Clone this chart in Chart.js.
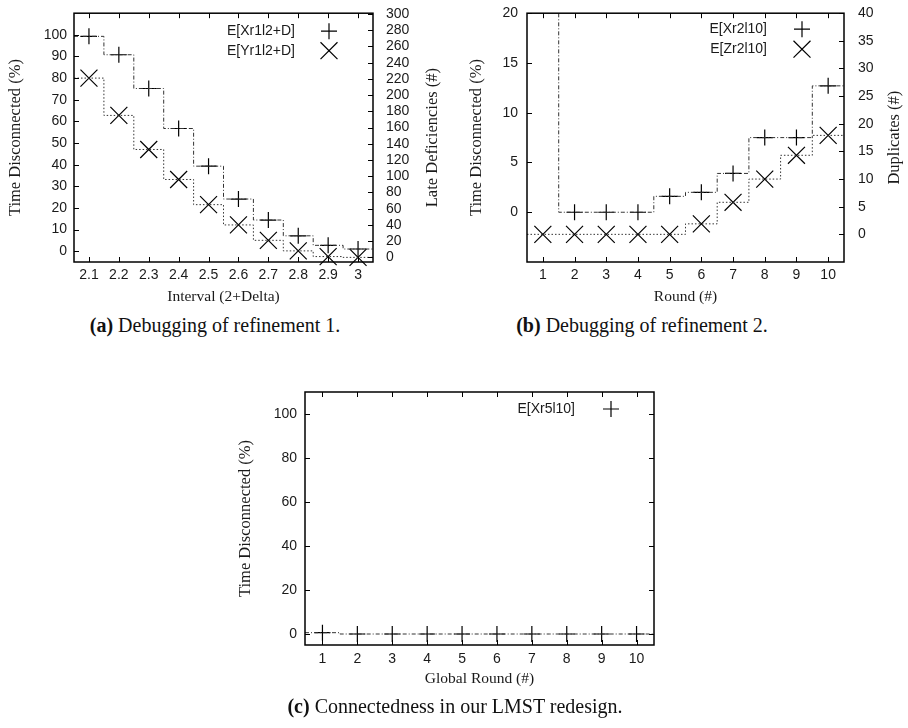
<!DOCTYPE html>
<html><head><meta charset="utf-8">
<script src="https://cdn.jsdelivr.net/npm/chart.js@4.4.1/dist/chart.umd.min.js"></script>
<style>
html,body{margin:0;padding:0;background:#fff}
body{width:908px;height:728px;position:relative;overflow:hidden}
canvas{position:absolute}
.cap{position:absolute;font-family:"Liberation Serif",serif;font-size:20px;line-height:20px;color:#111;white-space:nowrap;transform:translateX(-50%)}
.cap b{font-weight:bold}
</style></head><body>
<canvas id="ca" width="454" height="310" style="left:0;top:0"></canvas>
<canvas id="cb" width="454" height="310" style="left:454px;top:0"></canvas>
<canvas id="cc" width="454" height="320" style="left:227px;top:380px"></canvas>
<div class="cap" style="left:215px;top:315px"><b>(a)</b> Debugging of refinement 1.</div>
<div class="cap" style="left:642px;top:315px"><b>(b)</b> Debugging of refinement 2.</div>
<div class="cap" style="left:455px;top:696px"><b>(c)</b> Connectedness in our LMST redesign.</div>
<script>
// ---------------- data ----------------
// (a) Debugging of refinement 1
const intervals = [2.1, 2.2, 2.3, 2.4, 2.5, 2.6, 2.7, 2.8, 2.9, 3.0];
const intervalLabels = ['2.1','2.2','2.3','2.4','2.5','2.6','2.7','2.8','2.9','3'];
const xr1TimeDisconnected = [99.3, 90.8, 75.2, 56.7, 39.3, 24.1, 14.4, 7.1, 2.7, 1.0];
const yr1LateDeficiencies = [221, 175, 133, 96, 65, 40, 21, 8, 1, 0];
const yTicksA = [0, 10, 20, 30, 40, 50, 60, 70, 80, 90, 100];
const y2TicksA = [0, 20, 40, 60, 80, 100, 120, 140, 160, 180, 200, 220, 240, 260, 280, 300];

// (b) Debugging of refinement 2
const rounds = [1, 2, 3, 4, 5, 6, 7, 8, 9, 10];
const roundLabels = ['1','2','3','4','5','6','7','8','9','10'];
const xr2TimeDisconnected = [100, 0, 0, 0, 1.6, 2.0, 3.9, 7.5, 7.5, 12.7];
const zr2Duplicates = [0, 0, 0, 0, 0, 1.9, 5.8, 10.0, 14.3, 17.9];
const yTicksB = [0, 5, 10, 15, 20];
const y2TicksB = [0, 5, 10, 15, 20, 25, 30, 35, 40];

// (c) Connectedness in our LMST redesign
const globalRounds = [1, 2, 3, 4, 5, 6, 7, 8, 9, 10];
const xr5TimeDisconnected = [0.6, 0, 0, 0, 0, 0, 0, 0, 0, 0];
const yTicksC = [0, 20, 40, 60, 80, 100];

// ---------------- helpers ----------------
const SANS = '"Liberation Sans", Arial, sans-serif';
const SERIF = '"Liberation Serif", "Times New Roman", serif';
const TXT = '#1a1a1a';
const tickFont = {family: SANS, size: 14};
const yTitleFont = {family: SERIF, size: 16.5};
const xTitleFont = {family: SERIF, size: 15.5};

function histeps(xs, ys) {
  const half = (xs[1] - xs[0]) / 2;
  const out = [];
  xs.forEach((x, i) => { out.push({x: x - half, y: ys[i]}); out.push({x: x + half, y: ys[i]}); });
  return out;
}
function pts(xs, ys) { return xs.map((x, i) => ({x: x, y: ys[i]})); }
function setTicks(arr) { return s => { s.ticks = arr.map(v => ({value: v})); }; }
function noPad(s) { s.paddingTop = 0; s.paddingBottom = 0; s.paddingLeft = 0; s.paddingRight = 0; }
function fixW(w) { return s => { s.width = w; noPad(s); }; }
function fixH(h) { return s => { s.height = h; noPad(s); }; }

function stepDS(label, xs, ys, axis, dash) {
  return {label: label, data: histeps(xs, ys), yAxisID: axis, showLine: true, pointRadius: 0,
    borderColor: '#333', borderWidth: 1, borderDash: dash, fill: false, tension: 0, legend: false};
}
function markDS(label, xs, ys, axis, style) {
  return {label: label, data: pts(xs, ys), yAxisID: axis, showLine: false,
    pointStyle: style, pointRadius: style === 'cross' ? 8 : 12, pointBorderWidth: 1.2,
    pointBorderColor: '#000', pointBackgroundColor: 'rgba(0,0,0,0)', borderColor: '#000', clip: false, legend: true};
}
function drawMarker(ctx, style, x, y) {
  ctx.beginPath();
  if (style === 'cross') {
    const r = 8;
    ctx.moveTo(x - r, y); ctx.lineTo(x + r, y); ctx.moveTo(x, y - r); ctx.lineTo(x, y + r);
  } else {
    const r = 12 * Math.SQRT1_2;
    ctx.moveTo(x - r, y - r); ctx.lineTo(x + r, y + r); ctx.moveTo(x - r, y + r); ctx.lineTo(x + r, y - r);
  }
  ctx.stroke();
}

const gnuPlugin = {
  id: 'gnu',
  afterDraw(chart, args, o) {
    const ctx = chart.ctx, a = chart.chartArea, L = 5;
    ctx.save();
    ctx.strokeStyle = '#000'; ctx.lineWidth = 1;
    (o.tickSpecs || []).forEach(spec => {
      const s = chart.scales[spec.axis];
      s.ticks.forEach(t => {
        const p = Math.round(s.getPixelForValue(t.value)) + 0.5;
        spec.edges.forEach(e => {
          ctx.beginPath();
          if (e === 'bottom') { ctx.moveTo(p, a.bottom); ctx.lineTo(p, a.bottom - L); }
          if (e === 'top') { ctx.moveTo(p, a.top); ctx.lineTo(p, a.top + L); }
          if (e === 'left') { ctx.moveTo(a.left, p); ctx.lineTo(a.left + L, p); }
          if (e === 'right') { ctx.moveTo(a.right, p); ctx.lineTo(a.right - L, p); }
          ctx.stroke();
        });
      });
    });
    ctx.lineWidth = 1.5;
    ctx.strokeRect(a.left, a.top, a.right - a.left, a.bottom - a.top);
    if (o.rightTitle) {
      ctx.save();
      ctx.font = yTitleFont.size + 'px ' + SERIF; ctx.fillStyle = TXT;
      ctx.textAlign = 'center'; ctx.textBaseline = 'middle';
      ctx.translate(o.rightTitle.x, (a.top + a.bottom) / 2);
      ctx.rotate(-Math.PI / 2);
      ctx.fillText(o.rightTitle.text, 0, 0);
      ctx.restore();
    }
    if (o.key) {
      ctx.font = '14px ' + SANS; ctx.fillStyle = TXT;
      ctx.textAlign = 'right'; ctx.textBaseline = 'middle';
      ctx.lineWidth = 1.2;
      let row = 0;
      chart.data.datasets.forEach(ds => {
        if (!ds.legend) return;
        const y = a.top + o.key.top + row * o.key.dy;
        ctx.fillText(ds.label, a.right - o.key.text, y);
        drawMarker(ctx, ds.pointStyle, a.right - o.key.mark, y);
        row++;
      });
    }
    ctx.restore();
  }
};
Chart.register(gnuPlugin);

function xScale(min, max, ticks, labels, title, h, pad, tpad) {
  return {type: 'linear', position: 'bottom', min: min, max: max,
    afterBuildTicks: setTicks(ticks), afterFit: fixH(h),
    ticks: {callback: (v, i) => labels[i], font: tickFont, color: TXT, padding: pad, autoSkip: false, maxRotation: 0},
    grid: {display: false, drawTicks: false}, border: {display: false},
    title: {display: true, text: title, font: xTitleFont, color: TXT, padding: {top: 0, bottom: tpad}}};
}
function yScale(pos, min, max, ticks, w, pad, title, tpad) {
  const s = {type: 'linear', position: pos, min: min, max: max,
    afterBuildTicks: setTicks(ticks), afterFit: fixW(w),
    ticks: {font: tickFont, color: TXT, padding: pad, autoSkip: false},
    grid: {display: false, drawTicks: false}, border: {display: false},
    title: {display: false}};
  if (title) s.title = {display: true, text: title, font: yTitleFont, color: TXT, padding: {top: tpad, bottom: 0}};
  return s;
}
const base = {animation: false, responsive: false, devicePixelRatio: 1, events: []};

// ---------------- (a) ----------------
new Chart(document.getElementById('ca'), {
  type: 'scatter',
  data: {datasets: [
    stepDS('E[Xr1l2+D] steps', intervals, xr1TimeDisconnected, 'y', [4, 2, 1, 2]),
    stepDS('E[Yr1l2+D] steps', intervals, yr1LateDeficiencies, 'y2', [1.5, 2]),
    markDS('E[Xr1l2+D]', intervals, xr1TimeDisconnected, 'y', 'cross'),
    markDS('E[Yr1l2+D]', intervals, yr1LateDeficiencies, 'y2', 'crossRot')
  ]},
  options: Object.assign({}, base, {
    layout: {padding: {left: 0, right: 0, top: 9, bottom: 0}},
    scales: {
      x: xScale(2.05, 3.05, intervals, intervalLabels, 'Interval (2+Delta)', 48, 5, 4),
      y: yScale('left', -5, 110, yTicksA, 74, 7, 'Time Disconnected (%)', 6),
      y2: yScale('right', -5.7, 301, y2TicksA, 81, 13, null, 0)
    },
    plugins: {legend: {display: false}, tooltip: {enabled: false},
      gnu: {tickSpecs: [{axis: 'x', edges: ['bottom', 'top']}, {axis: 'y', edges: ['left']}, {axis: 'y2', edges: ['right']}],
        rightTitle: {text: 'Late Deficiencies (#)', x: 433}, key: {top: 18, dy: 19.5, text: 78, mark: 44}}}
  })
});

// ---------------- (b) ----------------
new Chart(document.getElementById('cb'), {
  type: 'scatter',
  data: {datasets: [
    stepDS('E[Xr2l10] steps', rounds, xr2TimeDisconnected, 'y', [4, 2, 1, 2]),
    stepDS('E[Zr2l10] steps', rounds, zr2Duplicates, 'y2', [1.5, 2]),
    markDS('E[Xr2l10]', rounds, xr2TimeDisconnected, 'y', 'cross'),
    markDS('E[Zr2l10]', rounds, zr2Duplicates, 'y2', 'crossRot')
  ]},
  options: Object.assign({}, base, {
    layout: {padding: {left: 0, right: 0, top: 9, bottom: 0}},
    scales: {
      x: xScale(0.5, 10.5, rounds, roundLabels, 'Round (#)', 48, 5, 4),
      y: yScale('left', -5, 20, yTicksB, 73, 9, 'Time Disconnected (%)', 13),
      y2: yScale('right', -5, 40, y2TicksB, 64, 14, null, 0)
    },
    plugins: {legend: {display: false}, tooltip: {enabled: false},
      gnu: {tickSpecs: [{axis: 'x', edges: ['bottom', 'top']}, {axis: 'y', edges: ['left']}, {axis: 'y2', edges: ['right']}],
        rightTitle: {text: 'Duplicates (#)', x: 441}, key: {top: 16, dy: 20, text: 77, mark: 42}}}
  })
});

// ---------------- (c) ----------------
new Chart(document.getElementById('cc'), {
  type: 'scatter',
  data: {datasets: [
    stepDS('E[Xr5l10] steps', globalRounds, xr5TimeDisconnected, 'y', [4, 2, 1, 2]),
    markDS('E[Xr5l10]', globalRounds, xr5TimeDisconnected, 'y', 'cross')
  ]},
  options: Object.assign({}, base, {
    layout: {padding: {left: 0, right: 27, top: 12, bottom: 0}},
    scales: {
      x: xScale(0.5, 10.5, globalRounds, roundLabels, 'Global Round (#)', 55, 6, 12),
      y: yScale('left', -5, 110, yTicksC, 78, 8, 'Time Disconnected (%)', 9)
    },
    plugins: {legend: {display: false}, tooltip: {enabled: false},
      gnu: {tickSpecs: [{axis: 'x', edges: ['bottom', 'top']}, {axis: 'y', edges: ['left', 'right']}],
        key: {top: 17, dy: 20, text: 79, mark: 43}}}
  })
});
</script>
</body></html>
